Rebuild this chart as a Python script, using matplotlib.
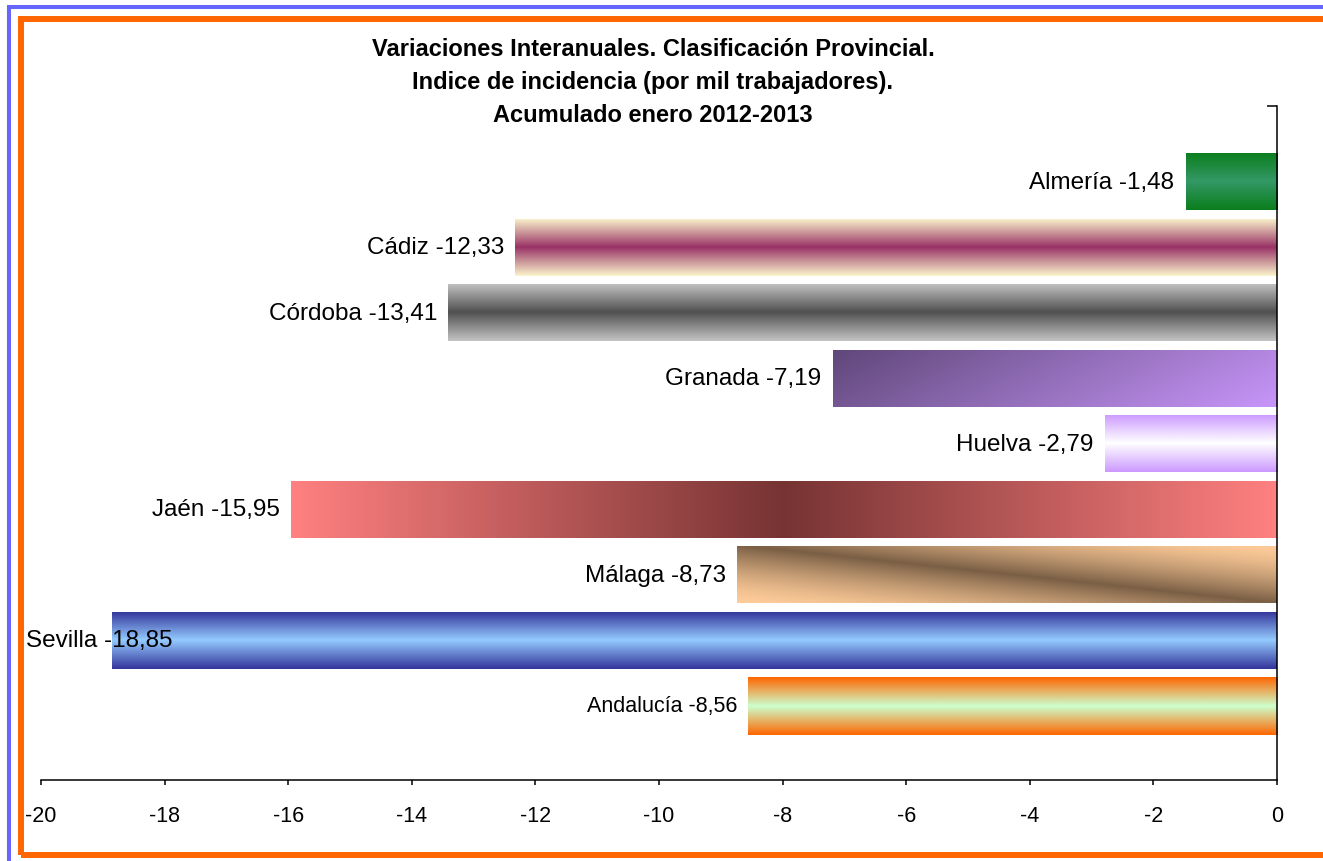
import numpy as np
import matplotlib
matplotlib.use('Agg')
import matplotlib.pyplot as plt
from matplotlib.colors import to_rgb
from matplotlib.patches import Rectangle

plt.rcParams['font.family'] = ['Liberation Sans', 'DejaVu Sans']
plt.rcParams['axes.unicode_minus'] = False

# datos
provincias = ['Almería', 'Cádiz', 'Córdoba', 'Granada', 'Huelva',
              'Jaén', 'Málaga', 'Sevilla', 'Andalucía']
variacion = [-1.48, -12.33, -13.41, -7.19, -2.79, -15.95, -8.73, -18.85, -8.56]
xticks = list(range(-20, 1, 2))
titulo = ['Variaciones Interanuales. Clasificación Provincial.',
          'Indice de incidencia (por mil trabajadores).',
          'Acumulado enero 2012-2013']

# relleno degradado de cada barra: (tipo, color 1, color 2)
rellenos = [
    ('v', '#0b7d1c', '#339966'),
    ('v', '#fbf6cc', '#993366'),
    ('v', '#c4c4c4', '#505050'),
    ('d', '#5f4779', '#c896fa'),
    ('v', '#cc99ff', '#ffffff'),
    ('h', '#ff8080', '#773333'),
    ('m', '#ffcc99', '#7a5f45'),
    ('v', '#333399', '#94cbff'),
    ('v', '#ff6600', '#ccffcc'),
]


def degradado(tipo, c1, c2, n=256):
    u = np.linspace(0, 1, n)[None, :]
    v = np.linspace(0, 1, n)[:, None]
    if tipo == 'v':
        t = (1 - np.abs(2 * v - 1)) + 0 * u
    elif tipo == 'h':
        t = (1 - np.abs(2 * u - 1)) + 0 * v
    elif tipo == 'd':
        t = 0.8 * u + 0.2 * v
    else:
        t = (1 - np.abs(v - u)) ** 1.5
    a = np.array(to_rgb(c1))
    b = np.array(to_rgb(c2))
    return a + (b - a) * t[..., None]


W, H = 1323, 862
fig = plt.figure(figsize=(W / 100, H / 100), dpi=100)
fig.patch.set_facecolor('white')

# marcos
fig.add_artist(Rectangle((9 / W, -0.1), 2, 1.1 - 8 / H, transform=fig.transFigure,
                         fill=False, ec='#6666ff', lw=2.9, clip_on=False))
fig.add_artist(Rectangle((21 / W, 1 - 856 / H), 2, (856 - 20) / H, transform=fig.transFigure,
                         fill=False, ec='#ff6600', lw=4.3, clip_on=False))

ax = fig.add_axes([41 / W, 1 - 781 / H, (1277 - 41) / W, (781 - 107) / H])
pos = np.arange(len(provincias))
bars = ax.barh(pos, variacion, height=0.87, color='none', edgecolor='none')

for bar, (tipo, c1, c2) in zip(bars, rellenos):
    x0 = min(bar.get_x(), bar.get_x() + bar.get_width())
    x1 = max(bar.get_x(), bar.get_x() + bar.get_width())
    y0 = bar.get_y()
    y1 = y0 + bar.get_height()
    im = ax.imshow(degradado(tipo, c1, c2), extent=(x0, x1, y1, y0),
                   aspect='auto', interpolation='bilinear', zorder=2)
    im.set_clip_path(bar)

ax.set_xlim(-20, 0)
ax.set_ylim(9.129, -1.152)

for s in ['left', 'top']:
    ax.spines[s].set_visible(False)
for s in ['bottom', 'right']:
    ax.spines[s].set_linewidth(1.1)

ax.set_xticks(xticks)
ax.set_xticklabels([str(x) for x in xticks])
ax.tick_params(axis='x', direction='out', length=3.5, width=1.1, pad=14.5, labelsize=15.5)
ax.yaxis.set_ticks_position('right')
ax.set_yticks([ax.get_ylim()[1]])
ax.tick_params(axis='y', direction='in', length=7, width=1.1,
               labelright=False, labelleft=False)

etiquetas = []
for p, nombre, v in zip(pos, provincias, variacion):
    txt = '%s %s' % (nombre, ('%.2f' % v).replace('.', ','))
    fs = 15.5 if nombre == 'Andalucía' else 17.5
    t = ax.annotate(txt, xy=(v, p), xytext=(-8, 0), textcoords='offset points',
                    ha='right', va='center', fontsize=fs, zorder=5,
                    annotation_clip=False)
    etiquetas.append(t)

# si una etiqueta se sale del area del grafico, se pega al borde izquierdo
fig.canvas.draw()
r = fig.canvas.get_renderer()
for t in etiquetas:
    bb = t.get_window_extent(r)
    if bb.x0 < 26:
        t.xyann = (t.xyann[0] + (26 - bb.x0) * 72 / 100, 0)

for linea, yb in zip(titulo, [55.5, 88.5, 121.5]):
    fig.text(653 / W, 1 - yb / H, linea, ha='center', va='baseline',
             fontsize=17, fontweight='bold')

fig.savefig('out.png', dpi=100)
